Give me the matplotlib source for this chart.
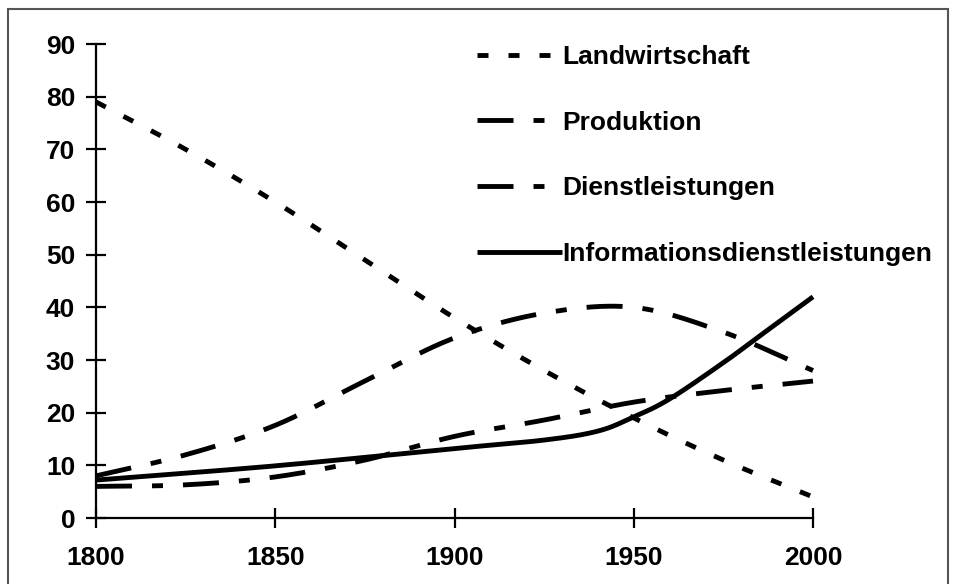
import numpy as np
import matplotlib
matplotlib.use("Agg")
import matplotlib.pyplot as plt
from matplotlib.patches import Rectangle

years = [1800, 1825, 1850, 1875, 1900, 1925, 1950, 1975, 2000]
landwirtschaft = [79, 70, 60, 49, 38, 28, 19, 11, 4]
produktion = [8, 12, 17.6, 26, 34.2, 38.9, 40, 35.3, 28]
dienstleistungen = [6, 6.3, 7.8, 11, 15.5, 18.6, 22, 24.2, 26]
info_years = [1800, 1850, 1900, 1925, 1940, 1950, 1960, 1975, 1985, 2000]
informationsdienst = [7.2, 9.9, 13.2, 14.8, 16.5, 19.2, 22.6, 29.5, 34.5, 42]

labels = ["Landwirtschaft", "Produktion", "Dienstleistungen", "Informationsdienstleistungen"]
y_ticks = list(range(0, 91, 10))
x_ticks = [1800, 1850, 1900, 1950, 2000]


def smooth(x, y, n=30):
    # Catmull-Rom style smoothing like Excel's smoothed lines
    x = np.asarray(x, float)
    y = np.asarray(y, float)
    px = np.concatenate([[2 * x[0] - x[1]], x, [2 * x[-1] - x[-2]]])
    py = np.concatenate([[2 * y[0] - y[1]], y, [2 * y[-1] - y[-2]]])
    xs, ys = [], []
    t = np.linspace(0, 1, n, endpoint=False)
    for i in range(1, len(px) - 2):
        p0x, p1x, p2x, p3x = px[i - 1:i + 3]
        p0y, p1y, p2y, p3y = py[i - 1:i + 3]
        for (p0, p1, p2, p3, out) in ((p0x, p1x, p2x, p3x, xs), (p0y, p1y, p2y, p3y, ys)):
            out.extend(0.5 * ((2 * p1) + (-p0 + p2) * t + (2 * p0 - 5 * p1 + 4 * p2 - p3) * t ** 2
                              + (-p0 + 3 * p1 - 3 * p2 + p3) * t ** 3))
    xs.append(x[-1]); ys.append(y[-1])
    return np.array(xs), np.array(ys)


plt.rcParams['font.family'] = ['Liberation Sans', 'DejaVu Sans']
plt.rcParams['font.weight'] = 'bold'
plt.rcParams['lines.scale_dashes'] = False

fig = plt.figure(figsize=(9.56, 5.84), dpi=100)
ax = fig.add_axes([96 / 956, 1 - 518 / 584, (813 - 96) / 956, (518 - 44) / 584])

lw = 3.5
px = 0.72  # points per pixel
dot_style = (0, (11 * px, 20 * px))
dashdot_style = (0, (36 * px, 20 * px, 11 * px, 20 * px))

series = [
    (years, landwirtschaft, dot_style),
    (years, produktion, dashdot_style),
    (years, dienstleistungen, dashdot_style),
    (info_years, informationsdienst, '-'),
]
for (xv, yv, ls), lab in zip(series, labels):
    sx, sy = smooth(xv, yv)
    ax.plot(sx, sy, color='black', lw=lw, linestyle=ls, label=lab, clip_on=False,
            solid_capstyle='butt', dash_capstyle='butt')

fs = 19
ax.set_xlim(1800, 2000)
ax.set_ylim(0, 90)
ax.set_xticks(x_ticks)
ax.set_yticks(y_ticks)
for s in ['top', 'right']:
    ax.spines[s].set_visible(False)
for s in ['left', 'bottom']:
    ax.spines[s].set_linewidth(1.6)
ax.tick_params(direction='inout', length=14, width=1.6, labelsize=fs)
ax.tick_params(axis='y', pad=8)
ax.tick_params(axis='x', pad=13)
for t in ax.get_xticklabels() + ax.get_yticklabels():
    t.set_fontweight('bold')

leg = ax.legend(loc='upper left', bbox_to_anchor=((477 - 96) / 717, 0.998), frameon=False,
                fontsize=fs, handlelength=85 / (fs / 0.72), handletextpad=0.0, labelspacing=1.58,
                borderaxespad=0, borderpad=0.0)
for t in leg.get_texts():
    t.set_fontweight('bold')

fig.patches.append(Rectangle((8 / 956, -0.05), (948 - 8) / 956, 1.05 - 9 / 584,
                             transform=fig.transFigure, fill=False, edgecolor='#555555', lw=1.5))

fig.savefig('out.png', dpi=100)
